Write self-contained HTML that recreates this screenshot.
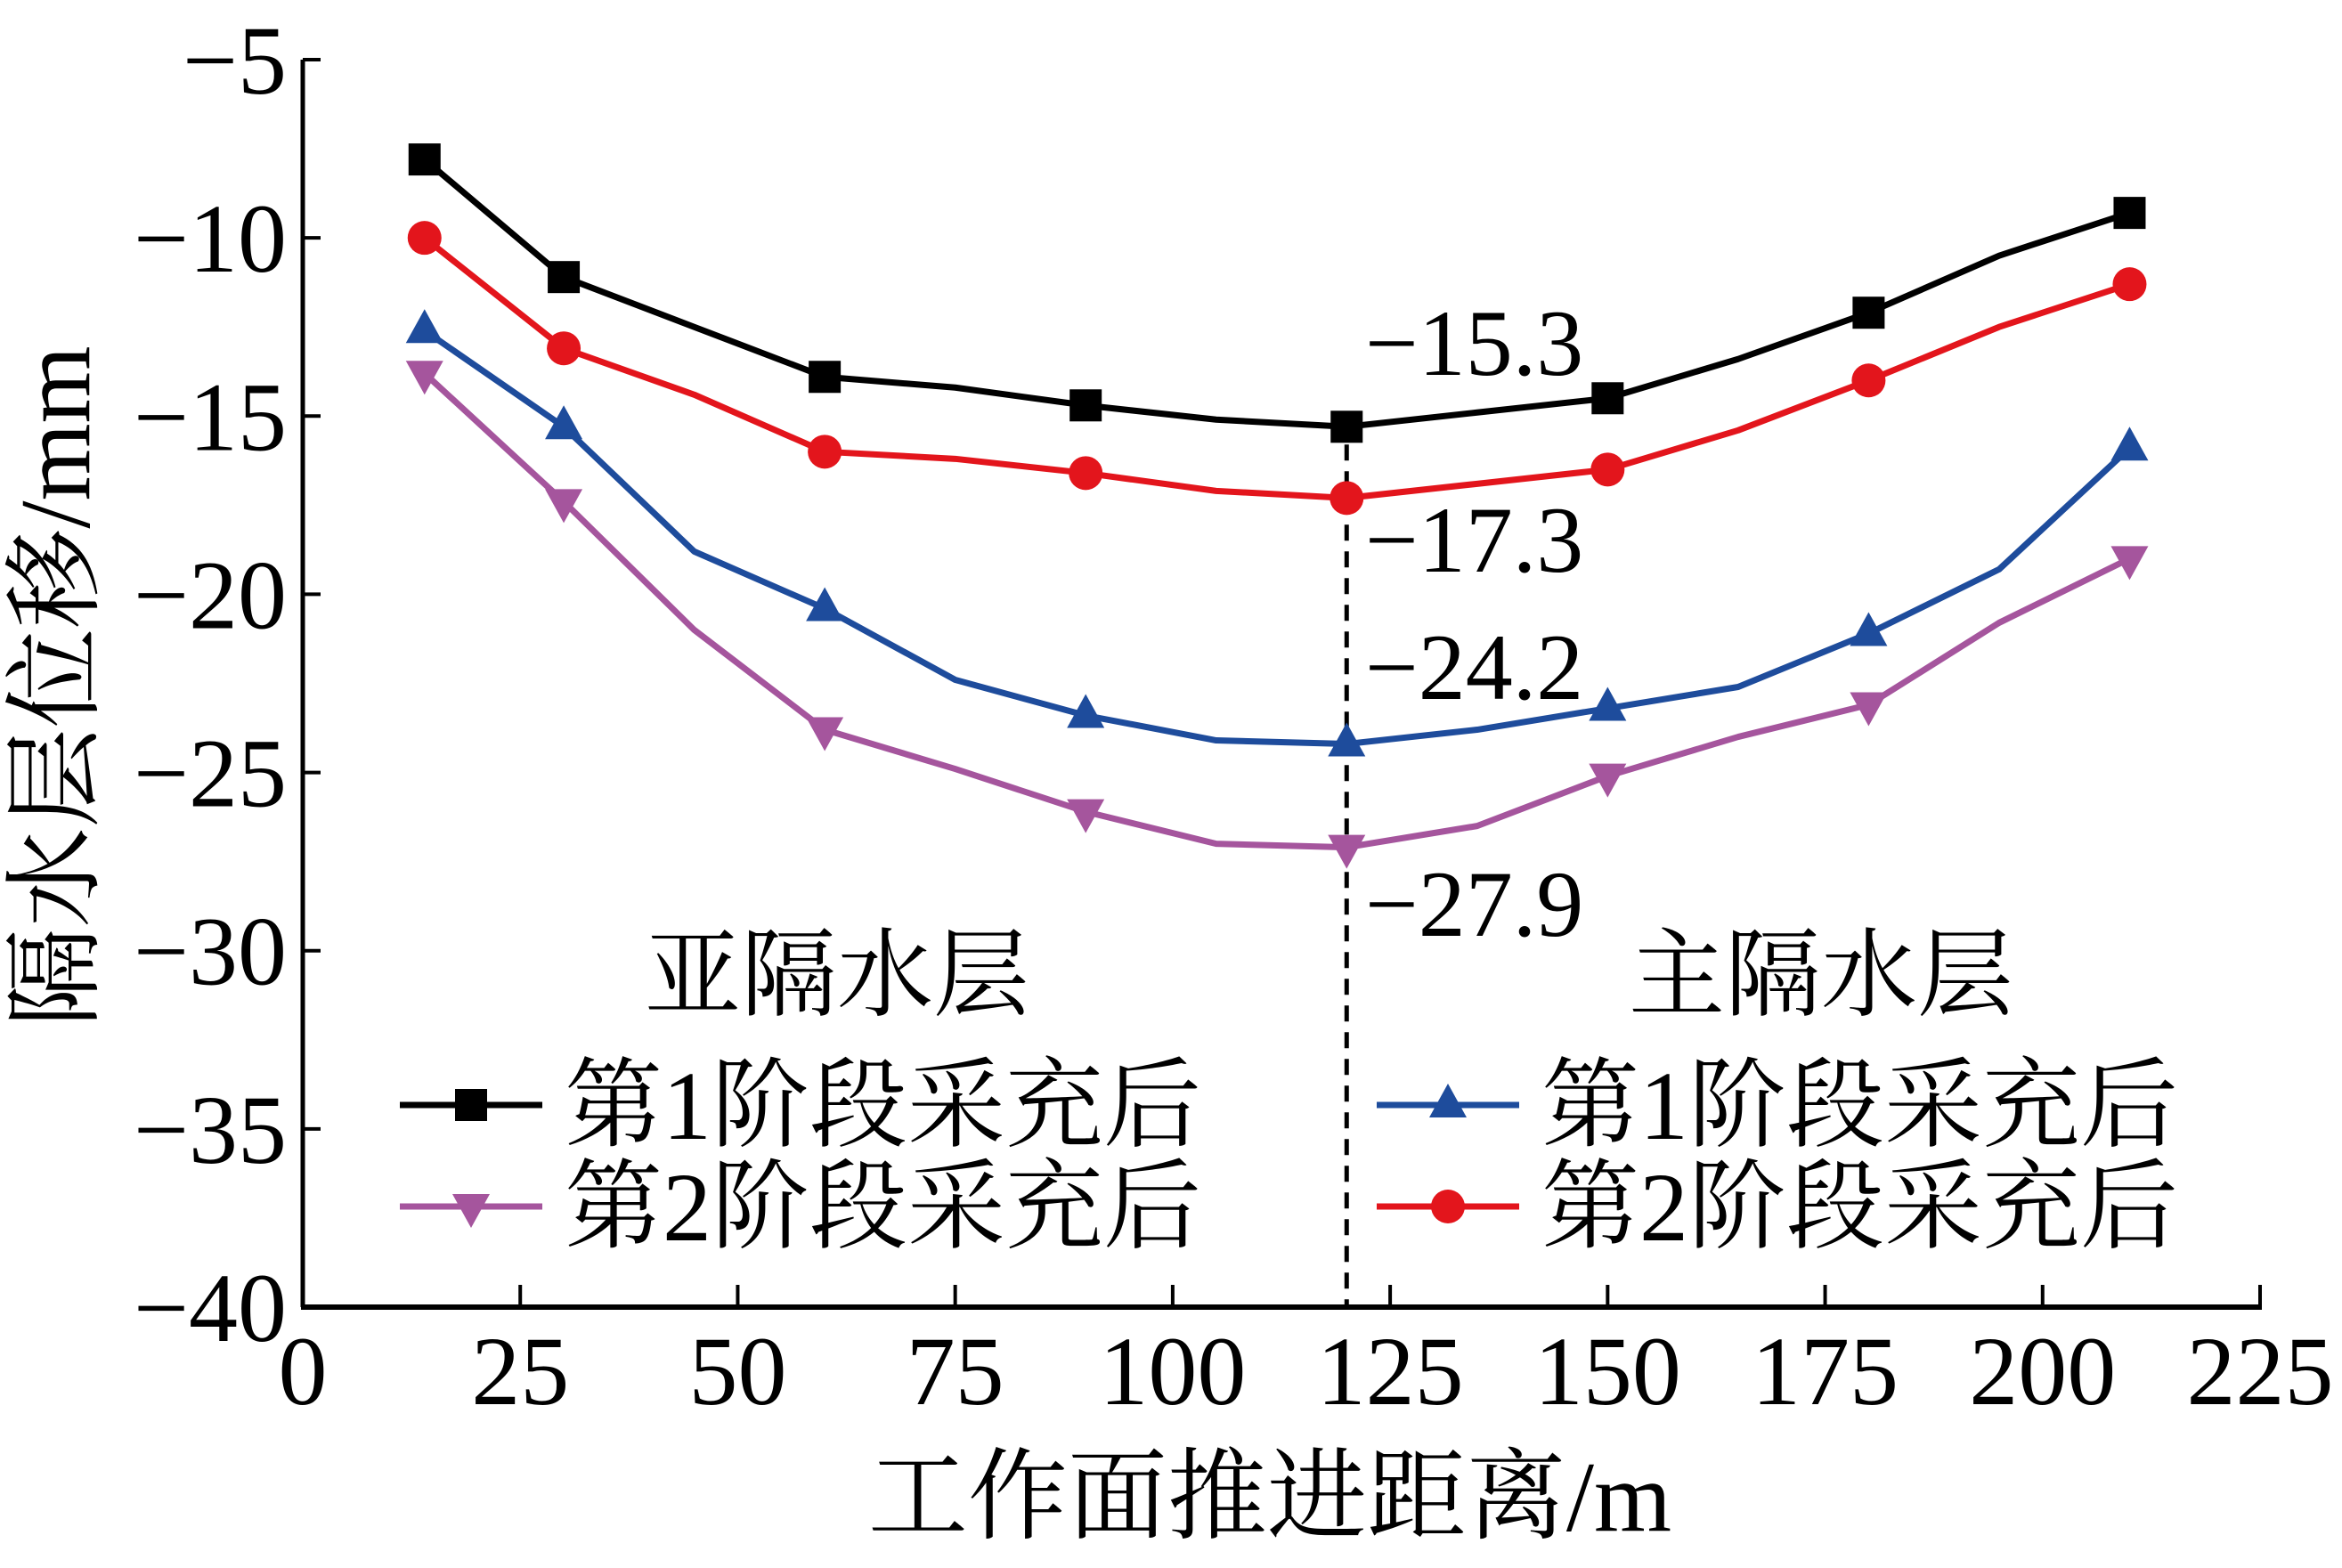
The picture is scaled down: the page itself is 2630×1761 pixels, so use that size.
<!DOCTYPE html>
<html><head><meta charset="utf-8"><style>
html,body{margin:0;padding:0;background:#fff}
svg{display:block}
text{font-family:"Liberation Serif","Noto Serif CJK SC",serif;fill:#000}
</style></head><body>
<svg id="chart" width="2630" height="1761" viewBox="0 0 2630 1761" xmlns="http://www.w3.org/2000/svg">
<g id="axes"></g>
<g id="plot"></g>
<g id="labels"></g>
</svg>
<script>
const xs = [14,30,45,60,75,90,105,120,135,150,165,180,195,210];
const markerMask = [1,1,0,1,0,1,0,1,0,1,0,1,0,1];
const black1 = [-7.8,-11.1,-12.5,-13.9,-14.2,-14.7,-15.1,-15.3,-14.9,-14.5,-13.4,-12.1,-10.5,-9.3];
const red2 = [-10.0,-13.1,-14.4,-16.0,-16.2,-16.6,-17.1,-17.3,-16.9,-16.5,-15.4,-14.0,-12.5,-11.3];
const blue1 = [-12.6,-15.3,-18.8,-20.4,-22.4,-23.4,-24.1,-24.2,-23.8,-23.2,-22.6,-21.1,-19.3,-15.9];
const purple2 = [-13.8,-17.4,-21.0,-23.8,-24.9,-26.1,-27.0,-27.1,-26.5,-25.1,-24.0,-23.1,-20.8,-19.0];
const xTicks = [0,25,50,75,100,125,150,175,200,225];
const yTicks = [-5,-10,-15,-20,-25,-30,-35,-40];
const annoValues = ["−15.3","−17.3","−24.2","−27.9"];
const annoY = [-15.3,-17.3,-24.2,-27.9];

const NS="http://www.w3.org/2000/svg";
const X0=340, X1=2538, Y0=67, Y1=1468;
const xS=v=>X0+(v-0)/225*(X1-X0);
const yS=v=>Y0+(-5-v)/35*(Y1-Y0);
function mk(tag,attrs,parent){const e=document.createElementNS(NS,tag);for(const k in attrs)e.setAttribute(k,attrs[k]);parent.appendChild(e);return e;}
const axes=document.getElementById('axes'),plot=document.getElementById('plot'),labels=document.getElementById('labels');

let el=mk('line',{x1:X0,y1:Y0,x2:X0,y2:Y1,stroke:'#000','stroke-width':5},axes);


el=mk('line',{x1:X0-2,y1:Y1,x2:X1+2,y2:Y1,stroke:'#000','stroke-width':6},axes);



yTicks.forEach(v=>{
  const y=yS(v);
  const t=mk('line',{x1:X0,y1:y,x2:X0+20,y2:y,stroke:'#000','stroke-width':4},axes);
  
  
  const l=mk('text',{x:322,y:y+38,'font-size':110,'text-anchor':'end'},axes);
  l.textContent=String(v).replace('-','−');
  
  
});
xTicks.forEach(v=>{
  const x=xS(v);
  if(v>0){
    const t=mk('line',{x1:x,y1:Y1,x2:x,y2:Y1-25,stroke:'#000','stroke-width':4},axes);
    
    
  }
  const l=mk('text',{x:x,y:1577,'font-size':110,'text-anchor':'middle'},axes);
  l.textContent=v;
  
  
});

// dashed line at 120
el=mk('line',{x1:xS(120),y1:yS(-15.3)+20,x2:xS(120),y2:Y1,stroke:'#000','stroke-width':5,'stroke-dasharray':'18,12'},plot);



function marker(type,cx,cy,color,parent){
  if(type==='square') return mk('rect',{x:cx-18,y:cy-18,width:36,height:36,fill:color},parent);
  if(type==='circle') return mk('circle',{cx:cx,cy:cy,r:19,fill:color},parent);
  if(type==='up') return mk('polygon',{points:`${cx},${cy-24} ${cx-21},${cy+14} ${cx+21},${cy+14}`,fill:color},parent);
  return mk('polygon',{points:`${cx},${cy+24} ${cx-21},${cy-14} ${cx+21},${cy-14}`,fill:color},parent);
}
const series=[
  {name:'series-stage1-sub',data:black1,color:'#000000',m:'square'},
  {name:'series-stage2-main',data:red2,color:'#e3151c',m:'circle'},
  {name:'series-stage1-main',data:blue1,color:'#1e4c9c',m:'up'},
  {name:'series-stage2-sub',data:purple2,color:'#a5559d',m:'down'}
];
series.forEach(s=>{
  const g=mk('g',{},plot);
  
  
  const pts=xs.map((x,i)=>xS(x)+','+yS(s.data[i])).join(' ');
  const pl=mk('polyline',{points:pts,fill:'none',stroke:s.color,'stroke-width':7,'stroke-linejoin':'round'},g);
  
  
  xs.forEach((x,i)=>{
    if(!markerMask[i])return;
    const m=marker(s.m,xS(x),yS(s.data[i]),s.color,g);
    
    
  });
});

annoValues.forEach((t,i)=>{
  const base=[421,642,785,1051][i];
  const a=mk('text',{x:1533,y:base,'font-size':106},labels);
  a.textContent=t;
  
  
});

function txt(str,x,y,size,name,anchor){
  const t=mk('text',{x:x,y:y,'font-size':size,'text-anchor':anchor||'start'},labels);
  t.textContent=str;
  
  return t;
}
el=txt('亚隔水层',940,1132,108,'region-label-sub','middle');

el=txt('主隔水层',2045,1132,108,'region-label-main','middle');

el=txt('工作面推进距离/m',1426,1719,112,'x-axis-title','middle');

el=mk('text',{x:0,y:0,'font-size':112,'text-anchor':'middle',transform:'translate(100,771) rotate(-90)'},labels);
el.textContent='隔水层位移/mm';



const legendItems=[
  {lx:449,ly:1241,text:'第1阶段采充后',color:'#000000',m:'square'},
  {lx:449,ly:1355,text:'第2阶段采充后',color:'#a5559d',m:'down'},
  {lx:1546,ly:1241,text:'第1阶段采充后',color:'#1e4c9c',m:'up'},
  {lx:1546,ly:1355,text:'第2阶段采充后',color:'#e3151c',m:'circle'}
];
legendItems.forEach(it=>{
  const g=mk('g',{},labels);
  
  
  mk('line',{x1:it.lx,y1:it.ly,x2:it.lx+160,y2:it.ly,stroke:it.color,'stroke-width':7},g);
  marker(it.m,it.lx+80,it.ly,it.color,g);
  const t=mk('text',{x:it.lx+185,y:it.ly+38,'font-size':110},g);
  t.textContent=it.text;
});
</script>
</body></html>
